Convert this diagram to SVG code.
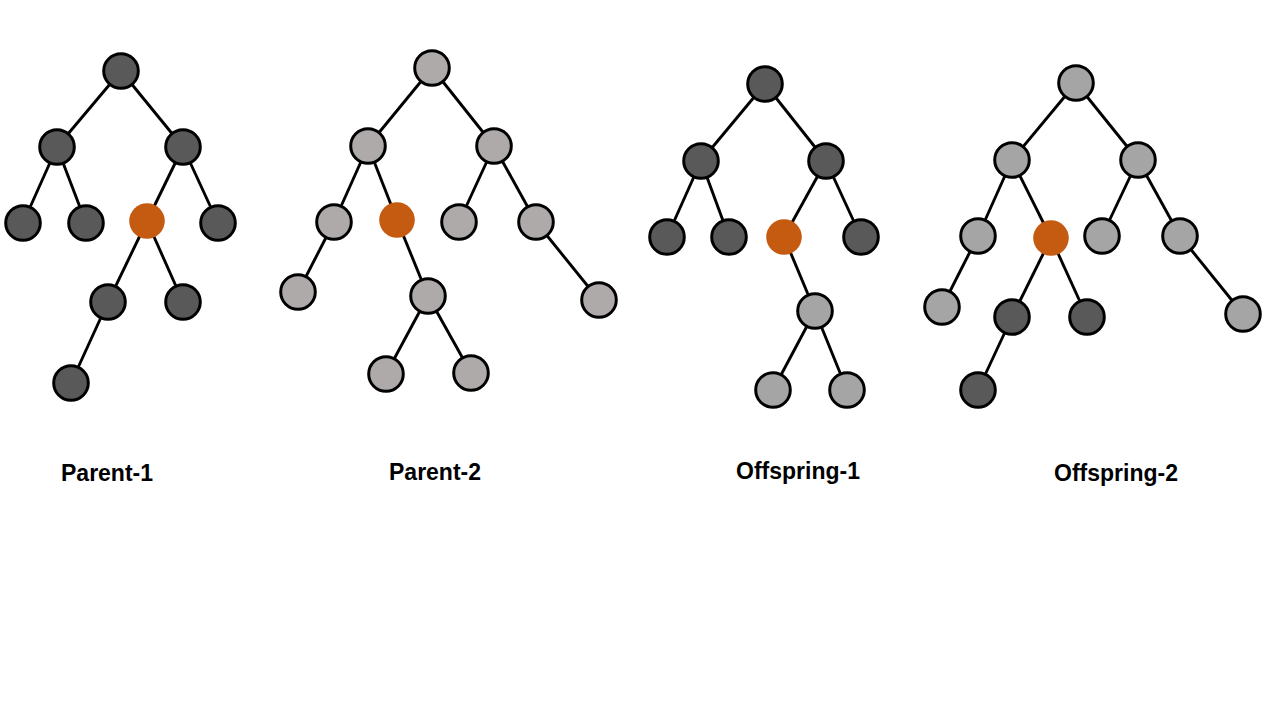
<svg xmlns="http://www.w3.org/2000/svg" width="1280" height="720" viewBox="0 0 1280 720">
<style>
.e{stroke:#000;stroke-width:2.9;fill:none}
.n{stroke:#000;stroke-width:3}
.d{fill:#595959}
.g{fill:#AEAAAA}
.h{fill:#A5A5A5}
.o{fill:#C55A11}
.t{font-family:"Liberation Sans",Arial,sans-serif;font-weight:bold;font-size:23px;fill:#000}
</style>
<rect width="1280" height="720" fill="#fff"/>
<g id="connectors">
<!-- Parent-1 -->
<line class="e" x1="121" y1="71" x2="57" y2="147"/>
<line class="e" x1="121" y1="71" x2="183" y2="147"/>
<line class="e" x1="57" y1="147" x2="23" y2="223"/>
<line class="e" x1="57" y1="147" x2="86" y2="223"/>
<line class="e" x1="183" y1="147" x2="147" y2="221"/>
<line class="e" x1="183" y1="147" x2="218" y2="223"/>
<line class="e" x1="147" y1="221" x2="108" y2="302"/>
<line class="e" x1="147" y1="221" x2="183" y2="302"/>
<line class="e" x1="108" y1="302" x2="71" y2="383"/>
<!-- Parent-2 -->
<line class="e" x1="432" y1="68" x2="368" y2="146"/>
<line class="e" x1="432" y1="68" x2="494" y2="146"/>
<line class="e" x1="368" y1="146" x2="334" y2="222"/>
<line class="e" x1="368" y1="146" x2="397" y2="220"/>
<line class="e" x1="494" y1="146" x2="459" y2="222"/>
<line class="e" x1="494" y1="146" x2="536" y2="222"/>
<line class="e" x1="334" y1="222" x2="298" y2="292"/>
<line class="e" x1="397" y1="220" x2="428" y2="296"/>
<line class="e" x1="536" y1="222" x2="599" y2="300"/>
<line class="e" x1="428" y1="296" x2="386" y2="374"/>
<line class="e" x1="428" y1="296" x2="471" y2="373"/>
<!-- Offspring-1 -->
<line class="e" x1="765" y1="84" x2="701" y2="161"/>
<line class="e" x1="765" y1="84" x2="826" y2="161"/>
<line class="e" x1="701" y1="161" x2="667" y2="237"/>
<line class="e" x1="701" y1="161" x2="729" y2="237"/>
<line class="e" x1="826" y1="161" x2="784" y2="237"/>
<line class="e" x1="826" y1="161" x2="861" y2="237"/>
<line class="e" x1="784" y1="237" x2="815" y2="311"/>
<line class="e" x1="815" y1="311" x2="773" y2="390"/>
<line class="e" x1="815" y1="311" x2="847" y2="390"/>
<!-- Offspring-2 -->
<line class="e" x1="1076" y1="83" x2="1012" y2="160"/>
<line class="e" x1="1076" y1="83" x2="1138" y2="160"/>
<line class="e" x1="1012" y1="160" x2="978" y2="236"/>
<line class="e" x1="1012" y1="160" x2="1051" y2="238"/>
<line class="e" x1="1138" y1="160" x2="1102" y2="236"/>
<line class="e" x1="1138" y1="160" x2="1180" y2="236"/>
<line class="e" x1="978" y1="236" x2="942" y2="307"/>
<line class="e" x1="1051" y1="238" x2="1012" y2="317"/>
<line class="e" x1="1051" y1="238" x2="1087" y2="317"/>
<line class="e" x1="1180" y1="236" x2="1243" y2="314"/>
<line class="e" x1="1012" y1="317" x2="978" y2="390"/>
</g>
<g id="parent1">
<circle class="n d" cx="121" cy="71" r="17.3"/>
<circle class="n d" cx="57" cy="147" r="17.3"/>
<circle class="n d" cx="183" cy="147" r="17.3"/>
<circle class="n d" cx="23" cy="223" r="17.3"/>
<circle class="n d" cx="86" cy="223" r="17.3"/>
<circle class="o" cx="147" cy="221" r="17.8"/>
<circle class="n d" cx="218" cy="223" r="17.3"/>
<circle class="n d" cx="108" cy="302" r="17.3"/>
<circle class="n d" cx="183" cy="302" r="17.3"/>
<circle class="n d" cx="71" cy="383" r="17.3"/>
<text class="t" x="61" y="481">Parent-1</text>
</g>
<g id="parent2">
<circle class="n g" cx="432" cy="68" r="17.3"/>
<circle class="n g" cx="368" cy="146" r="17.3"/>
<circle class="n g" cx="494" cy="146" r="17.3"/>
<circle class="n g" cx="334" cy="222" r="17.3"/>
<circle class="o" cx="397" cy="220" r="17.8"/>
<circle class="n g" cx="459" cy="222" r="17.3"/>
<circle class="n g" cx="536" cy="222" r="17.3"/>
<circle class="n g" cx="298" cy="292" r="17.3"/>
<circle class="n g" cx="428" cy="296" r="17.3"/>
<circle class="n g" cx="599" cy="300" r="17.3"/>
<circle class="n g" cx="386" cy="374" r="17.3"/>
<circle class="n g" cx="471" cy="373" r="17.3"/>
<text class="t" x="389" y="480">Parent-2</text>
</g>
<g id="offspring1">
<circle class="n d" cx="765" cy="84" r="17.3"/>
<circle class="n d" cx="701" cy="161" r="17.3"/>
<circle class="n d" cx="826" cy="161" r="17.3"/>
<circle class="n d" cx="667" cy="237" r="17.3"/>
<circle class="n d" cx="729" cy="237" r="17.3"/>
<circle class="o" cx="784" cy="237" r="17.8"/>
<circle class="n d" cx="861" cy="237" r="17.3"/>
<circle class="n h" cx="815" cy="311" r="17.3"/>
<circle class="n h" cx="773" cy="390" r="17.3"/>
<circle class="n h" cx="847" cy="390" r="17.3"/>
<text class="t" x="736" y="479">Offspring-1</text>
</g>
<g id="offspring2">
<circle class="n h" cx="1076" cy="83" r="17.3"/>
<circle class="n h" cx="1012" cy="160" r="17.3"/>
<circle class="n h" cx="1138" cy="160" r="17.3"/>
<circle class="n h" cx="978" cy="236" r="17.3"/>
<circle class="o" cx="1051" cy="238" r="17.8"/>
<circle class="n h" cx="1102" cy="236" r="17.3"/>
<circle class="n h" cx="1180" cy="236" r="17.3"/>
<circle class="n h" cx="942" cy="307" r="17.3"/>
<circle class="n d" cx="1012" cy="317" r="17.3"/>
<circle class="n d" cx="1087" cy="317" r="17.3"/>
<circle class="n h" cx="1243" cy="314" r="17.3"/>
<circle class="n d" cx="978" cy="390" r="17.3"/>
<text class="t" x="1054" y="481">Offspring-2</text>
</g>
</svg>
